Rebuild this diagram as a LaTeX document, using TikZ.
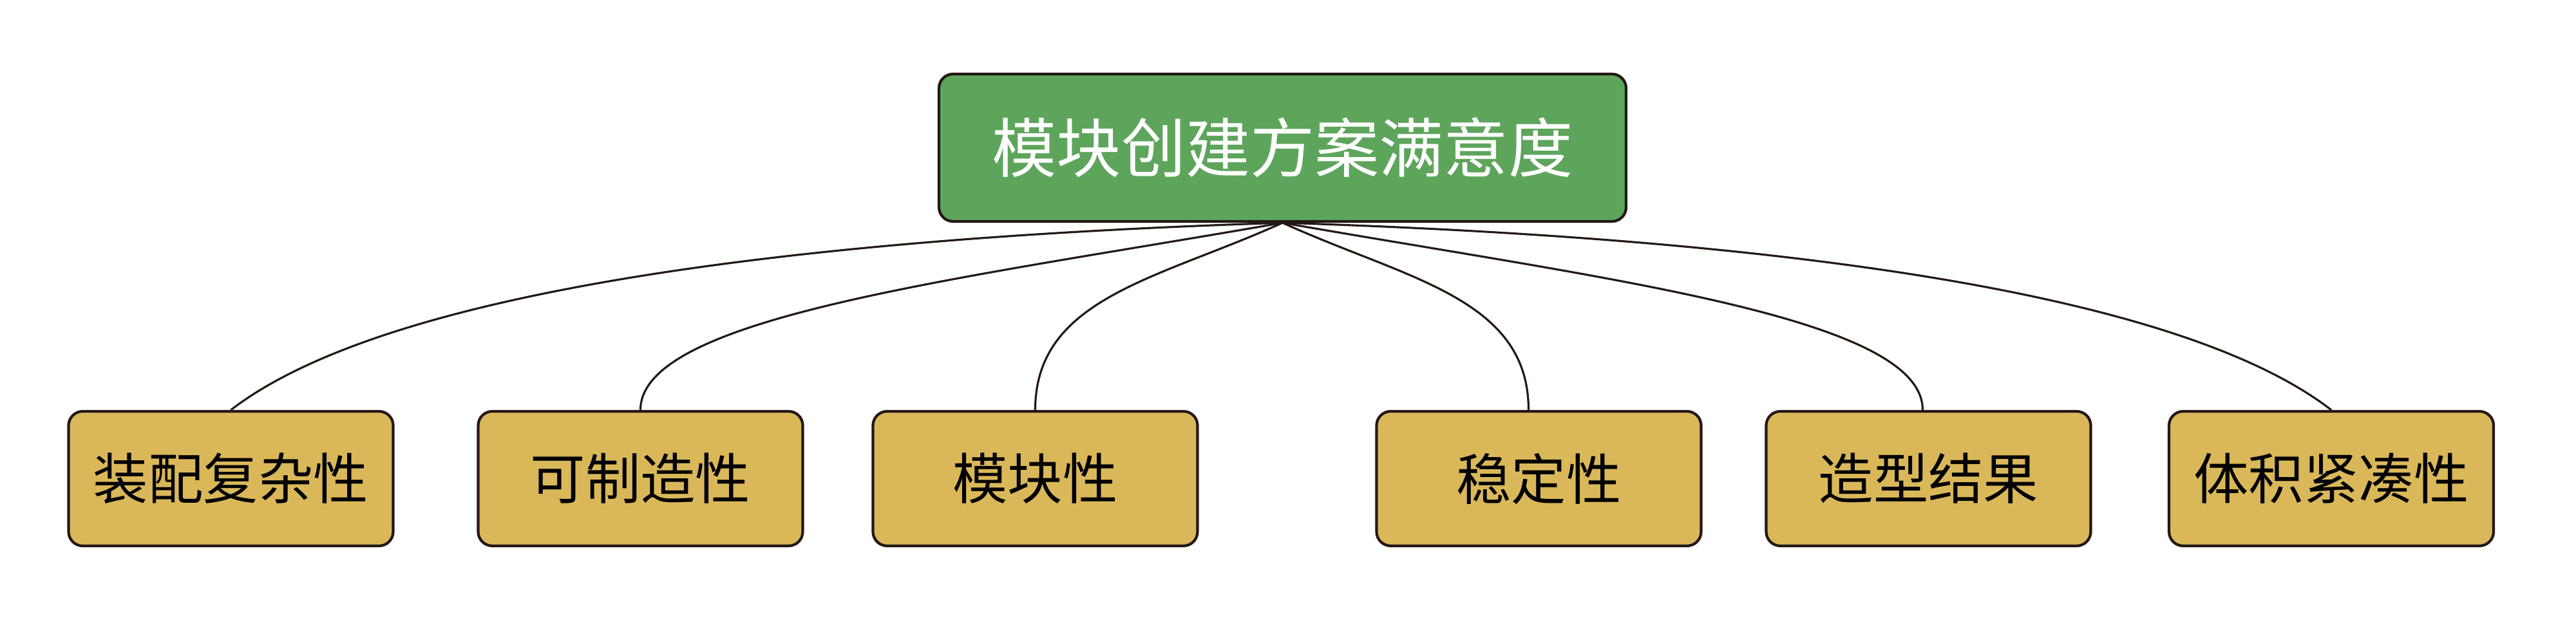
\documentclass[tikz,border=0pt]{standalone}
\usepackage{fontspec}
\setmainfont{Noto Sans CJK SC}
\usetikzlibrary{calc}
\definecolor{rootgreen}{RGB}{94,165,92}
\definecolor{leafgold}{RGB}{218,184,90}
\definecolor{edgecol}{RGB}{35,24,21}
\tikzset{
  rootbox/.style={draw=edgecol, line width=1.2pt, fill=rootgreen, rounded corners=0.22cm,
    minimum width=10.67cm, minimum height=2.29cm, inner sep=0pt, text=white,
    font=\fontsize{28.5pt}{34pt}\selectfont},
  leafbox/.style={draw=edgecol, line width=1.2pt, fill=leafgold, rounded corners=0.22cm,
    minimum width=5.04cm, minimum height=2.09cm, inner sep=0pt, text=black,
    font=\fontsize{24.3pt}{29pt}\selectfont},
  conn/.style={draw=edgecol, line width=0.9pt}
}
% #1 from, #2 to, #3 a, #4 b (first control), #5 c, #6 d (second control), as fractions of dx, dy
\newcommand\mmconn[6]{%
  \draw[conn] let \p1=(#1), \p2=(#2) in (\p1) .. controls ({\x1+#3*(\x2-\x1)},{\y1+#4*(\y2-\y1)}) and ({\x1+#5*(\x2-\x1)},{\y1+#6*(\y2-\y1)}) .. (\p2);}
\begin{document}
\begin{tikzpicture}
\useasboundingbox (0,0) rectangle (40,9.74);
\node[rootbox] (r) at (19.915,7.445) {模块创建方案满意度};
\node[leafbox] (c1) at (3.585,2.305) {装配复杂性};
\node[leafbox] (c2) at (9.945,2.305) {可制造性};
\node[leafbox] (c3) at (16.075,2.305) {模块性};
\node[leafbox] (c4) at (23.895,2.305) {稳定性};
\node[leafbox] (c5) at (29.945,2.305) {造型结果};
\node[leafbox] (c6) at (36.20,2.305) {体积紧凑性};
\mmconn{r.south}{c1.north}{0.45}{0.08}{0.85}{0.35}
\mmconn{r.south}{c2.north}{0.5}{0.3}{1.0}{0.5}
\mmconn{r.south}{c3.north}{0.5}{0.3}{1.0}{0.4}
\mmconn{r.south}{$(c4.north)+(-0.16,0)$}{0.5}{0.3}{1.0}{0.4}
\mmconn{r.south}{$(c5.north)+(-0.09,0)$}{0.5}{0.3}{1.0}{0.5}
\mmconn{r.south}{c6.north}{0.45}{0.08}{0.85}{0.35}
\end{tikzpicture}
\end{document}
